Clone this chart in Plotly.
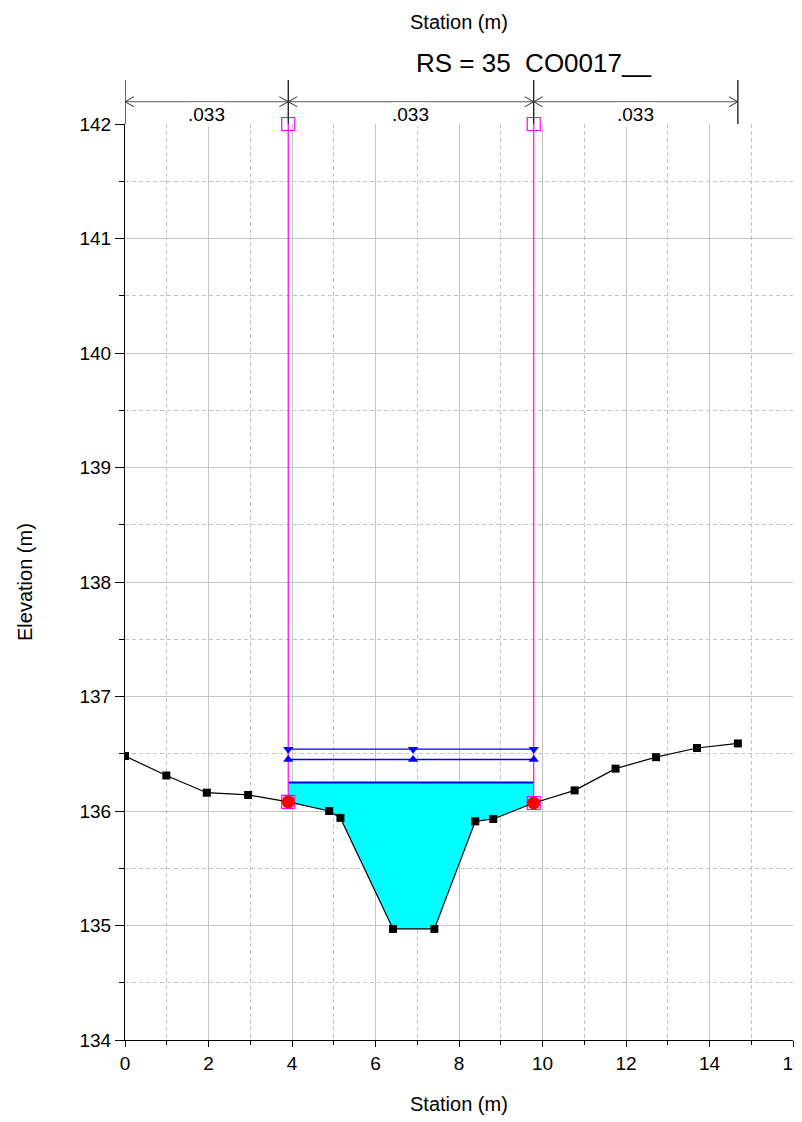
import plotly.graph_objects as go

# Cross-section ground points
station = [0.0, 0.99, 1.96, 2.95, 3.91, 4.89, 5.16, 6.42, 7.41, 8.39, 8.82, 9.79,
           10.77, 11.75, 12.72, 13.70, 14.68]
elevation = [136.48, 136.31, 136.16, 136.14, 136.08, 136.00, 135.94, 134.97, 134.97,
             135.91, 135.93, 136.07, 136.18, 136.37, 136.47, 136.55, 136.59]

# Bank stations (left, right) and their elevations
bank_sta = [3.91, 9.79]
bank_elev = [136.08, 136.07]
levee_top = 142.0

# Water surfaces
ws_fill = 136.25
ws_upper = 136.54
ws_lower = 136.45
ws_marker_sta = [3.91, 6.9, 9.79]

# Manning's n segments
n_breaks = [0.0, 3.91, 9.79, 14.68]
n_values = [".033", ".033", ".033"]

font = "Liberation Sans, Arial, sans-serif"
fig = go.Figure()

# water fill (channel between banks)
fx = [bank_sta[0]] + [s for s in station if bank_sta[0] <= s <= bank_sta[1]] + [bank_sta[1]]
fy = [ws_fill] + [e for s, e in zip(station, elevation) if bank_sta[0] <= s <= bank_sta[1]] + [ws_fill]
fig.add_trace(go.Scatter(x=fx, y=fy, mode="lines", fill="toself", fillcolor="#00FFFF",
                         line=dict(width=0), hoverinfo="skip"))
fig.add_trace(go.Scatter(x=bank_sta, y=[ws_fill, ws_fill], mode="lines",
                         line=dict(color="#0000FF", width=2)))

# levee / bank lines in magenta
for s, e in zip(bank_sta, bank_elev):
    fig.add_trace(go.Scatter(x=[s, s], y=[e, levee_top], mode="lines",
                             line=dict(color="#FF00FF", width=1.2)))
fig.add_trace(go.Scatter(x=bank_sta, y=[levee_top, levee_top], mode="markers", cliponaxis=False,
                         marker=dict(symbol="square-open", size=13, color="#FF00FF",
                                     line=dict(width=1.2, color="#FF00FF"))))
fig.add_trace(go.Scatter(x=bank_sta, y=bank_elev, mode="markers",
                         marker=dict(symbol="square-open", size=13, color="#FF00FF",
                                     line=dict(width=1.2, color="#FF00FF"))))

# water surface profiles
fig.add_trace(go.Scatter(x=bank_sta, y=[ws_upper] * 2, mode="lines",
                         line=dict(color="#0000FF", width=1.3)))
fig.add_trace(go.Scatter(x=ws_marker_sta, y=[ws_upper] * 3, mode="markers",
                         marker=dict(symbol="triangle-down", size=9, color="#0000FF")))
fig.add_trace(go.Scatter(x=bank_sta, y=[ws_lower] * 2, mode="lines",
                         line=dict(color="#0000FF", width=1.3)))
fig.add_trace(go.Scatter(x=ws_marker_sta, y=[ws_lower] * 3, mode="markers",
                         marker=dict(symbol="triangle-up", size=9, color="#0000FF")))

# ground
fig.add_trace(go.Scatter(x=station, y=elevation, mode="lines+markers",
                         line=dict(color="black", width=1.2),
                         marker=dict(symbol="square", size=8, color="black")))

# bank station dots
fig.add_trace(go.Scatter(x=bank_sta, y=bank_elev, mode="markers",
                         marker=dict(symbol="circle", size=13, color="#FF0000")))

# Manning's n annotations above the plot
y_arrow = 1.0243
y_top = 1.048
dx = 0.215
dy = 0.0055
for s in n_breaks:
    fig.add_shape(type="line", xref="x", yref="paper", x0=s, x1=s, y0=1.0, y1=y_top,
                  line=dict(color="black", width=1.2))
for a, b, lab in zip(n_breaks[:-1], n_breaks[1:], n_values):
    fig.add_shape(type="line", xref="x", yref="paper", x0=a, x1=b, y0=y_arrow, y1=y_arrow,
                  line=dict(color="#555555", width=1.2))
    fig.add_shape(type="path", xref="x", yref="paper",
                  path=f"M {a + dx} {y_arrow + dy} L {a} {y_arrow} L {a + dx} {y_arrow - dy}",
                  line=dict(color="#333333", width=1))
    fig.add_shape(type="path", xref="x", yref="paper",
                  path=f"M {b - dx} {y_arrow + dy} L {b} {y_arrow} L {b - dx} {y_arrow - dy}",
                  line=dict(color="#333333", width=1))
    fig.add_annotation(x=(a + b) / 2, y=y_arrow, xref="x", yref="paper", text=lab,
                       showarrow=False, bgcolor="white", borderpad=1,
                       font=dict(family=font, size=19, color="black"))

# titles
fig.add_annotation(x=0.611, y=1.0671, xref="paper", yref="paper", text="RS = 35  CO0017__",
                   showarrow=False, yanchor="middle",
                   font=dict(family=font, size=26, color="black"))
fig.add_annotation(x=0.5, y=1.1114, xref="paper", yref="paper", text="Station (m)",
                   showarrow=False, yanchor="middle",
                   font=dict(family=font, size=20, color="black"))
fig.add_annotation(x=0.5, y=-0.0699, xref="paper", yref="paper", text="Station (m)",
                   showarrow=False, yanchor="middle",
                   font=dict(family=font, size=20, color="black"))
fig.add_annotation(x=-0.1497, y=0.5, xref="paper", yref="paper", text="Elevation (m)",
                   showarrow=False, textangle=-90, xanchor="center", yanchor="middle",
                   font=dict(family=font, size=20, color="black"))

grid = "#c4c4c4"
fig.update_layout(
    width=794, height=1114, autosize=False,
    margin=dict(l=117, r=9, t=116, b=82, autoexpand=False),
    plot_bgcolor="white", paper_bgcolor="white",
    showlegend=False,
    xaxis=dict(range=[0, 16], tick0=0, dtick=2, showline=True, linecolor="black", linewidth=1,
               ticks="outside", ticklen=6, tickcolor="black", showgrid=True, gridcolor=grid,
               gridwidth=1, zeroline=False, ticklabeloverflow="allow", automargin=False,
               tickfont=dict(family=font, size=19, color="black"),
               minor=dict(dtick=1, ticks="outside", ticklen=4, tickcolor="black",
                          showgrid=True, gridcolor=grid, griddash="4px,3px")),
    yaxis=dict(range=[134, 142], tick0=134, dtick=1, showline=True, linecolor="black", linewidth=1,
               ticks="outside", ticklen=9, tickcolor="black", showgrid=True, gridcolor=grid,
               gridwidth=1, zeroline=False, automargin=False,
               tickfont=dict(family=font, size=19, color="black"),
               minor=dict(dtick=0.5, ticks="outside", ticklen=5, tickcolor="black",
                          showgrid=True, gridcolor=grid, griddash="4px,3px")),
)

fig.write_html("out.html")
